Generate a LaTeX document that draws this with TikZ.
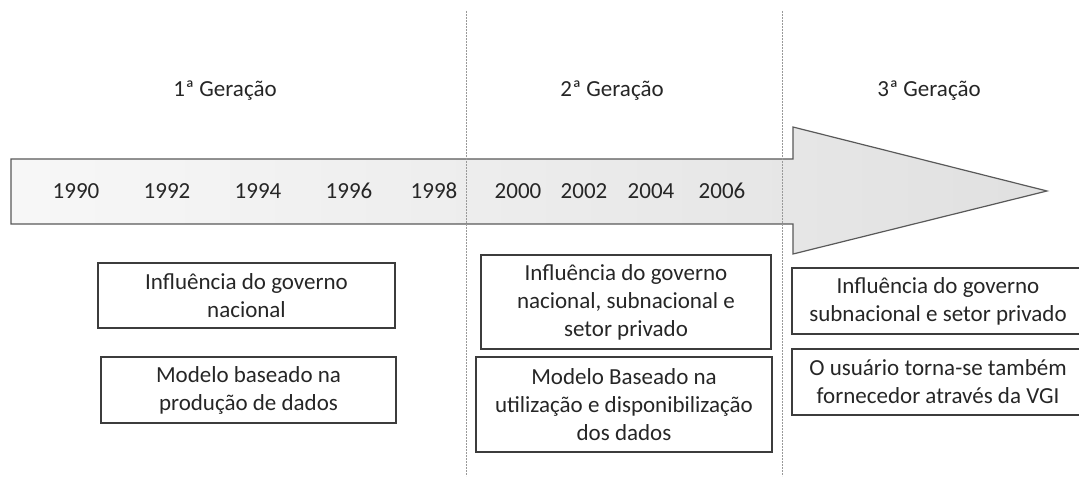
\documentclass[tikz,border=0pt]{standalone}
\usepackage{fontspec}
\setmainfont{Carlito}
\definecolor{txt}{HTML}{262626}
\definecolor{edge}{HTML}{595959}
\begin{document}
\begin{tikzpicture}[x=1pt,y=-1pt,
  lbl/.style={text=txt,font=\fontsize{23}{28}\selectfont,inner sep=0pt},
  infobox/.style={draw=txt!90,line width=1.1pt,text=txt,font=\fontsize{23}{28}\selectfont,
     align=center,inner sep=0pt,minimum height=#1},
  divider/.style={draw=gray!80,line width=0.7pt,dash pattern=on 2pt off 1pt}]
\useasboundingbox (0,0) rectangle (1079,481);
\clip (0,0) rectangle (1079,481);
% arrow
\path[draw=edge,line width=1.2pt,left color=gray!6,right color=gray!24,shading angle=90]
  (11,159) -- (793,159) -- (793,127) -- (1047,191) -- (793,254) -- (793,224) -- (11,224) -- cycle;
% dividers
\coordinate (d1t) at (466,11); \coordinate (d1b) at (466,476);
\coordinate (d2t) at (782,11); \coordinate (d2b) at (782,476);
\draw[divider] (d1t) -- (d1b);
\draw[divider] (d2t) -- (d2b);
% generations
\node[lbl] (g1) at (225,91) {1ª Geração};
\node[lbl] (g2) at (612,91) {2ª Geração};
\node[lbl] (g3) at (929,91) {3ª Geração};
% years
\node[lbl] (y1) at (76,191) {1990};
\node[lbl] (y2) at (167,191) {1992};
\node[lbl] (y3) at (258,191) {1994};
\node[lbl] (y4) at (349,191) {1996};
\node[lbl] (y5) at (434,191) {1998};
\node[lbl] (y6) at (518,191) {2000};
\node[lbl] (y7) at (584,191) {2002};
\node[lbl] (y8) at (651,191) {2004};
\node[lbl] (y9) at (722,191) {2006};
% boxes
\node[infobox=65pt,minimum width=297pt] (b1) at (246.5,295.5) {Influência do governo\\nacional};
\node[infobox=66pt,minimum width=295pt] (b2) at (248.5,390) {Modelo baseado na\\produção de dados};
\node[infobox=94pt,minimum width=290pt] (b3) at (626,302) {Influência do governo\\nacional, subnacional e\\setor privado};
\node[infobox=95pt,minimum width=296pt] (b4) at (624,404.5) {Modelo Baseado na\\utilização e disponibilização\\dos dados};
\node[infobox=66pt,minimum width=292pt] (b5) at (938,301) {Influência do governo\\subnacional e setor privado};
\node[infobox=66pt,minimum width=292pt] (b6) at (938,382) {O usuário torna-se também\\fornecedor através da VGI};
\end{tikzpicture}
\end{document}
